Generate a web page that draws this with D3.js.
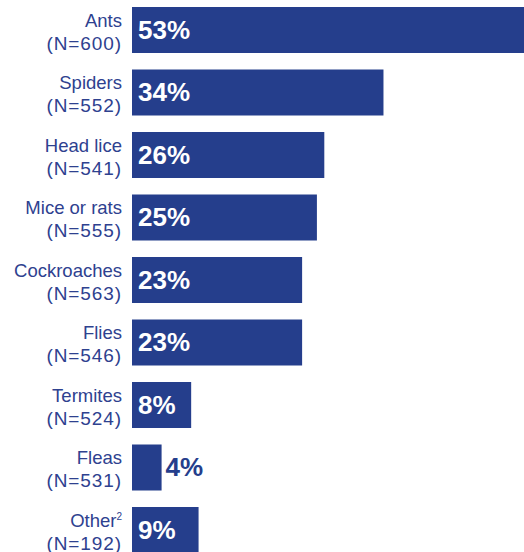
<!DOCTYPE html>
<html>
<head>
<meta charset="utf-8">
<script src="https://cdn.jsdelivr.net/npm/d3@7"></script>
<style>
  html, body { margin: 0; padding: 0; background: #ffffff; }
  svg { display: block; }
</style>
</head>
<body>
<script>
// Pest categories, sample sizes and share of respondents (%)
const categories = ["Ants", "Spiders", "Head lice", "Mice or rats", "Cockroaches", "Flies", "Termites", "Fleas", "Other"];
const sampleSizes = [600, 552, 541, 555, 563, 546, 524, 531, 192];
const percents = [53, 34, 26, 25, 23, 23, 8, 4, 9];
const footnoteMarks = ["", "", "", "", "", "", "", "", "2"];

const width = 524, height = 552;
const barColor = "#253e8c";
const textColor = "#2e418f";
const labelFont = "'Liberation Sans', Arial, Helvetica, sans-serif";

const rows = categories.map((c, i) => ({
  name: c, n: sampleSizes[i], value: percents[i], note: footnoteMarks[i]
}));

const svg = d3.select("body").append("svg")
  .attr("width", width)
  .attr("height", height);

const x = d3.scaleLinear()
  .domain([0, d3.max(percents)])
  .range([132, 524]);

const y = d3.scaleBand()
  .domain(categories)
  .range([7, 553])
  .paddingInner(0.264)
  .paddingOuter(0);

const row = svg.selectAll("g.row")
  .data(rows)
  .join("g")
  .attr("class", "row")
  .attr("transform", d => `translate(0,${y(d.name)})`);

row.append("rect")
  .attr("x", x(0))
  .attr("y", 0)
  .attr("width", d => x(d.value) - x(0))
  .attr("height", y.bandwidth())
  .attr("fill", barColor);

// Category name and sample size, right aligned beside the bar
const cat = row.append("text")
  .attr("text-anchor", "end")
  .attr("font-family", labelFont)
  .attr("fill", textColor);

const first = cat.append("tspan")
  .attr("x", 122)
  .attr("y", 19.5)
  .attr("font-size", 18.5)
  .text(d => d.name);

cat.filter(d => d.note)
  .append("tspan")
  .attr("dy", -7)
  .attr("font-size", 10)
  .text(d => d.note);

cat.append("tspan")
  .attr("x", 122)
  .attr("y", 42.5)
  .attr("font-size", 19)
  .attr("letter-spacing", 0.9)
  .text(d => `(N=${d.n})`);

// Value labels: inside the bar in white, or just past the end when the bar is too short
const valueSize = 26;
row.append("text")
  .attr("font-family", labelFont)
  .attr("font-weight", "bold")
  .attr("font-size", valueSize)
  .attr("y", y.bandwidth() / 2 + 8.5)
  .each(function(d) {
    const t = d3.select(this).text(`${d.value}%`);
    const w = this.getComputedTextLength();
    const barW = x(d.value) - x(0);
    if (barW >= w + 10) {
      t.attr("x", x(0) + 6).attr("fill", "#ffffff");
    } else {
      t.attr("x", x(d.value) + 4).attr("fill", barColor);
    }
  });
</script>
</body>
</html>
